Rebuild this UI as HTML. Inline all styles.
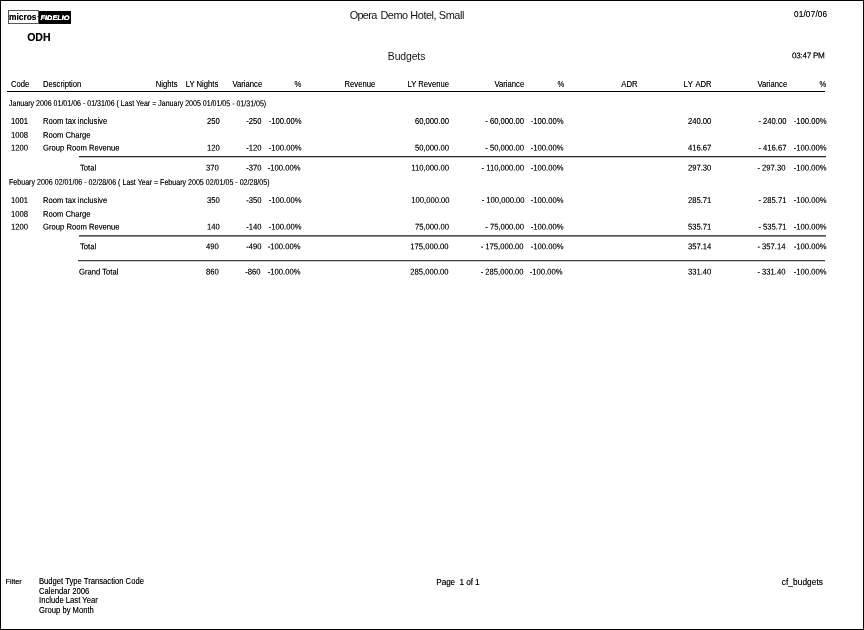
<!DOCTYPE html>
<html><head><meta charset="utf-8"><title>Budgets</title>
<style>
html,body{margin:0;padding:0;background:#fff;}
body{width:864px;height:630px;position:relative;overflow:hidden;font-family:"Liberation Sans",sans-serif;color:#000;}
.frame{position:absolute;left:0;top:0;width:862px;height:628px;border:1px solid #000;}
.t{position:absolute;white-space:nowrap;line-height:20px;font-size:8.3px;transform:scaleX(0.922);transform-origin:0 0;text-shadow:0 0 0.6px rgba(0,0,0,.55);}
.t.r{transform-origin:100% 0;}
.t.ns{text-shadow:none;color:#111;}
.l{position:absolute;}
.mi{position:absolute;left:8px;top:10px;width:31px;height:14px;border:1px solid #555;box-sizing:border-box;background:#fff;}
.fi{position:absolute;left:39px;top:11px;width:31.6px;height:13px;background:#000;}
.lg{position:absolute;white-space:nowrap;line-height:20px;font-weight:bold;transform-origin:0 0;}
.lg.m{left:9.3px;top:7px;font-size:9.6px;transform:scaleX(0.875);text-shadow:0 0 0.5px rgba(0,0,0,.6);}
.lg.d{left:36.9px;top:7px;font-size:7px;}
.lg.f{left:39.5px;top:8px;font-size:6.5px;color:#fff;transform-origin:0 14px;transform:scaleX(1.13) skewX(-8deg);text-shadow:0 0 0.4px #fff,0 0 0.4px #fff;}
</style></head><body>
<div class="frame"></div>
<div class="mi"></div><div class="fi"></div>
<span class="lg m">micros</span><span class="lg d">&middot;</span><span class="lg f">FIDELIO</span>
<span class="t ns" style="font-size:10.9px;letter-spacing:-0.43px;top:5px;left:349.7px;transform:scaleX(1);"><span style="letter-spacing:-0.68px;margin-right:1.25px">Opera</span> Demo Hotel, Small</span>
<span class="t" style="font-size:8.2px;letter-spacing:0.2px;top:4.5px;left:793.9px;transform:scaleX(1);">01/07/06</span>
<span class="t" style="font-size:10.5px;font-weight:bold;top:27px;left:27.2px;transform:scaleX(1);">ODH</span>
<span class="t ns" style="font-size:10.4px;letter-spacing:-0.1px;top:46.5px;left:387.8px;transform:scaleX(1);">Budgets</span>
<span class="t" style="font-size:8.2px;letter-spacing:-0.3px;top:45.5px;left:791.5px;transform:translateY(0.3px) scaleX(1) skewY(0.05deg);">03:47 PM</span>
<span class="t" style="top:74px;left:10.7px;">Code</span>
<span class="t" style="top:74px;left:43px;">Description</span>
<span class="t r" style="top:74px;right:686.2px;">Nights</span>
<span class="t r" style="top:74px;right:645.3px;">LY Nights</span>
<span class="t r" style="top:74px;right:602px;">Variance</span>
<span class="t r" style="top:74px;right:563.1px;">%</span>
<span class="t r" style="top:74px;right:489px;">Revenue</span>
<span class="t r" style="top:74px;right:414.7px;">LY Revenue</span>
<span class="t r" style="top:74px;right:339.7px;">Variance</span>
<span class="t r" style="top:74px;right:300.1px;">%</span>
<span class="t r" style="top:74px;right:226.4px;">ADR</span>
<span class="t r" style="top:74px;right:152.5px;">L<span style="letter-spacing:1px">Y</span> ADR</span>
<span class="t r" style="top:74px;right:76.8px;">Variance</span>
<span class="t r" style="top:74px;right:37.3px;">%</span>
<div class="l" style="left:7px;width:818px;top:91px;height:1px;background:#000"></div>
<span class="t" style="font-size:8.4px;top:92px;left:8.7px;transform:translateY(0.9px) scaleX(0.84) skewY(0.05deg);">January 2006 01/01/06 - 01/31/06 ( Last Year = January 2005 01/01/05 - 01/31/05)</span>
<span class="t" style="top:111px;left:10.8px;">1001</span>
<span class="t" style="top:111px;left:43px;">Room tax inclusive</span>
<span class="t r" style="top:111px;right:644.6px;">250</span>
<span class="t r" style="top:111px;right:602px;">-250</span>
<span class="t r" style="top:111px;right:562.7px;">-100.00%</span>
<span class="t r" style="top:111px;right:414.7px;">60,000.00</span>
<span class="t r" style="top:111px;right:339.7px;">- 60,000.00</span>
<span class="t r" style="top:111px;right:300.4px;">-100.00%</span>
<span class="t r" style="top:111px;right:152.15px;">240.00</span>
<span class="t r" style="top:111px;right:77.3px;">- 240.00</span>
<span class="t r" style="top:111px;right:37.1px;">-100.00%</span>
<span class="t" style="top:124px;left:10.8px;transform:translateY(0.65px) scaleX(0.922) skewY(0.05deg);">1008</span>
<span class="t" style="top:124px;left:43px;transform:translateY(0.65px) scaleX(0.922) skewY(0.05deg);">Room Charge</span>
<span class="t" style="top:137px;left:10.8px;transform:translateY(0.55px) scaleX(0.922) skewY(0.05deg);">1200</span>
<span class="t" style="top:137px;left:43px;transform:translateY(0.55px) scaleX(0.922) skewY(0.05deg);">Group Room Revenue</span>
<span class="t r" style="top:137px;right:644.6px;transform:translateY(0.55px) scaleX(0.922) skewY(0.05deg);">120</span>
<span class="t r" style="top:137px;right:602px;transform:translateY(0.55px) scaleX(0.922) skewY(0.05deg);">-120</span>
<span class="t r" style="top:137px;right:562.7px;transform:translateY(0.55px) scaleX(0.922) skewY(0.05deg);">-100.00%</span>
<span class="t r" style="top:137px;right:414.7px;transform:translateY(0.55px) scaleX(0.922) skewY(0.05deg);">50,000.00</span>
<span class="t r" style="top:137px;right:339.7px;transform:translateY(0.55px) scaleX(0.922) skewY(0.05deg);">- 50,000.00</span>
<span class="t r" style="top:137px;right:300.4px;transform:translateY(0.55px) scaleX(0.922) skewY(0.05deg);">-100.00%</span>
<span class="t r" style="top:137px;right:152.15px;transform:translateY(0.55px) scaleX(0.922) skewY(0.05deg);">416.67</span>
<span class="t r" style="top:137px;right:77.3px;transform:translateY(0.55px) scaleX(0.922) skewY(0.05deg);">- 416.67</span>
<span class="t r" style="top:137px;right:37.1px;transform:translateY(0.55px) scaleX(0.922) skewY(0.05deg);">-100.00%</span>
<div class="l" style="left:79px;width:747px;top:156px;height:1px;background:#2a2a2a"></div>
<div class="l" style="left:79px;width:747px;top:157px;height:1px;background:#c0c0c0"></div>
<span class="t" style="top:157px;left:79.7px;transform:translateY(0.5px) scaleX(0.922) skewY(0.05deg);">Total</span>
<span class="t r" style="top:157px;right:645.1px;transform:translateY(0.5px) scaleX(0.922) skewY(0.05deg);">370</span>
<span class="t r" style="top:157px;right:602.8px;transform:translateY(0.5px) scaleX(0.922) skewY(0.05deg);">-370</span>
<span class="t r" style="top:157px;right:563.5px;transform:translateY(0.5px) scaleX(0.922) skewY(0.05deg);">-100.00%</span>
<span class="t r" style="top:157px;right:415px;transform:translateY(0.5px) scaleX(0.922) skewY(0.05deg);">110,000.00</span>
<span class="t r" style="top:157px;right:340.3px;transform:translateY(0.5px) scaleX(0.922) skewY(0.05deg);">- 110,000.00</span>
<span class="t r" style="top:157px;right:300.9px;transform:translateY(0.5px) scaleX(0.922) skewY(0.05deg);">-100.00%</span>
<span class="t r" style="top:157px;right:152.8px;transform:translateY(0.5px) scaleX(0.922) skewY(0.05deg);">297.30</span>
<span class="t r" style="top:157px;right:78.3px;transform:translateY(0.5px) scaleX(0.922) skewY(0.05deg);">- 297.30</span>
<span class="t r" style="top:157px;right:37.6px;transform:translateY(0.5px) scaleX(0.922) skewY(0.05deg);">-100.00%</span>
<span class="t" style="font-size:8.4px;top:171px;left:8.7px;transform:translateY(0.8px) scaleX(0.846) skewY(0.05deg);">Febuary 2006 02/01/06 - 02/28/06 ( Last Year = Febuary 2005 02/01/05 - 02/28/05)</span>
<span class="t" style="top:189px;left:10.8px;transform:translateY(0.9px) scaleX(0.922) skewY(0.05deg);">1001</span>
<span class="t" style="top:189px;left:43px;transform:translateY(0.9px) scaleX(0.922) skewY(0.05deg);">Room tax inclusive</span>
<span class="t r" style="top:189px;right:644.6px;transform:translateY(0.9px) scaleX(0.922) skewY(0.05deg);">350</span>
<span class="t r" style="top:189px;right:602px;transform:translateY(0.9px) scaleX(0.922) skewY(0.05deg);">-350</span>
<span class="t r" style="top:189px;right:562.7px;transform:translateY(0.9px) scaleX(0.922) skewY(0.05deg);">-100.00%</span>
<span class="t r" style="top:189px;right:414.7px;transform:translateY(0.9px) scaleX(0.922) skewY(0.05deg);">100,000.00</span>
<span class="t r" style="top:189px;right:339.7px;transform:translateY(0.9px) scaleX(0.922) skewY(0.05deg);">- 100,000.00</span>
<span class="t r" style="top:189px;right:300.4px;transform:translateY(0.9px) scaleX(0.922) skewY(0.05deg);">-100.00%</span>
<span class="t r" style="top:189px;right:152.15px;transform:translateY(0.9px) scaleX(0.922) skewY(0.05deg);">285.71</span>
<span class="t r" style="top:189px;right:77.3px;transform:translateY(0.9px) scaleX(0.922) skewY(0.05deg);">- 285.71</span>
<span class="t r" style="top:189px;right:37.1px;transform:translateY(0.9px) scaleX(0.922) skewY(0.05deg);">-100.00%</span>
<span class="t" style="top:203px;left:10.8px;transform:translateY(0.7px) scaleX(0.922) skewY(0.05deg);">1008</span>
<span class="t" style="top:203px;left:43px;transform:translateY(0.7px) scaleX(0.922) skewY(0.05deg);">Room Charge</span>
<span class="t" style="top:216px;left:10.8px;transform:translateY(0.55px) scaleX(0.922) skewY(0.05deg);">1200</span>
<span class="t" style="top:216px;left:43px;transform:translateY(0.55px) scaleX(0.922) skewY(0.05deg);">Group Room Revenue</span>
<span class="t r" style="top:216px;right:644.6px;transform:translateY(0.55px) scaleX(0.922) skewY(0.05deg);">140</span>
<span class="t r" style="top:216px;right:602px;transform:translateY(0.55px) scaleX(0.922) skewY(0.05deg);">-140</span>
<span class="t r" style="top:216px;right:562.7px;transform:translateY(0.55px) scaleX(0.922) skewY(0.05deg);">-100.00%</span>
<span class="t r" style="top:216px;right:414.7px;transform:translateY(0.55px) scaleX(0.922) skewY(0.05deg);">75,000.00</span>
<span class="t r" style="top:216px;right:339.7px;transform:translateY(0.55px) scaleX(0.922) skewY(0.05deg);">- 75,000.00</span>
<span class="t r" style="top:216px;right:300.4px;transform:translateY(0.55px) scaleX(0.922) skewY(0.05deg);">-100.00%</span>
<span class="t r" style="top:216px;right:152.15px;transform:translateY(0.55px) scaleX(0.922) skewY(0.05deg);">535.71</span>
<span class="t r" style="top:216px;right:77.3px;transform:translateY(0.55px) scaleX(0.922) skewY(0.05deg);">- 535.71</span>
<span class="t r" style="top:216px;right:37.1px;transform:translateY(0.55px) scaleX(0.922) skewY(0.05deg);">-100.00%</span>
<div class="l" style="left:79px;width:747px;top:235px;height:1px;background:#555"></div>
<div class="l" style="left:79px;width:747px;top:236px;height:1px;background:#8a8a8a"></div>
<span class="t" style="top:236px;left:79.7px;transform:translateY(0.3px) scaleX(0.922) skewY(0.05deg);">Total</span>
<span class="t r" style="top:236px;right:645.1px;transform:translateY(0.3px) scaleX(0.922) skewY(0.05deg);">490</span>
<span class="t r" style="top:236px;right:602.8px;transform:translateY(0.3px) scaleX(0.922) skewY(0.05deg);">-490</span>
<span class="t r" style="top:236px;right:563.5px;transform:translateY(0.3px) scaleX(0.922) skewY(0.05deg);">-100.00%</span>
<span class="t r" style="top:236px;right:415px;transform:translateY(0.3px) scaleX(0.922) skewY(0.05deg);">175,000.00</span>
<span class="t r" style="top:236px;right:340.3px;transform:translateY(0.3px) scaleX(0.922) skewY(0.05deg);">- 175,000.00</span>
<span class="t r" style="top:236px;right:300.9px;transform:translateY(0.3px) scaleX(0.922) skewY(0.05deg);">-100.00%</span>
<span class="t r" style="top:236px;right:152.8px;transform:translateY(0.3px) scaleX(0.922) skewY(0.05deg);">357.14</span>
<span class="t r" style="top:236px;right:78.3px;transform:translateY(0.3px) scaleX(0.922) skewY(0.05deg);">- 357.14</span>
<span class="t r" style="top:236px;right:37.6px;transform:translateY(0.3px) scaleX(0.922) skewY(0.05deg);">-100.00%</span>
<div class="l" style="left:78px;width:747px;top:260px;height:1px;background:#404040"></div>
<div class="l" style="left:78px;width:747px;top:261px;height:1px;background:#ccc"></div>
<span class="t" style="top:261px;left:78.7px;transform:translateY(0.5px) scaleX(0.922) skewY(0.05deg);">Grand Total</span>
<span class="t r" style="top:261px;right:645.4px;transform:translateY(0.5px) scaleX(0.922) skewY(0.05deg);">860</span>
<span class="t r" style="top:261px;right:603.1px;transform:translateY(0.5px) scaleX(0.922) skewY(0.05deg);">-860</span>
<span class="t r" style="top:261px;right:563.7px;transform:translateY(0.5px) scaleX(0.922) skewY(0.05deg);">-100.00%</span>
<span class="t r" style="top:261px;right:415.7px;transform:translateY(0.5px) scaleX(0.922) skewY(0.05deg);">285,000.00</span>
<span class="t r" style="top:261px;right:340.9px;transform:translateY(0.5px) scaleX(0.922) skewY(0.05deg);">- 285,000.00</span>
<span class="t r" style="top:261px;right:301px;transform:translateY(0.5px) scaleX(0.922) skewY(0.05deg);">-100.00%</span>
<span class="t r" style="top:261px;right:152.8px;transform:translateY(0.5px) scaleX(0.922) skewY(0.05deg);">331.40</span>
<span class="t r" style="top:261px;right:78.7px;transform:translateY(0.5px) scaleX(0.922) skewY(0.05deg);">- 331.40</span>
<span class="t r" style="top:261px;right:37.8px;transform:translateY(0.5px) scaleX(0.922) skewY(0.05deg);">-100.00%</span>
<span class="t" style="font-size:7.5px;letter-spacing:-0.1px;top:571.5px;left:5.6px;transform:scaleX(1);">Filter</span>
<span class="t" style="top:571px;left:38.5px;">Budget Type Transaction Code</span>
<span class="t" style="top:581px;left:38.5px;">Calendar 2006</span>
<span class="t" style="top:590px;left:38.5px;">Include Last Year</span>
<span class="t" style="top:600px;left:38.5px;">Group by Month</span>
<span class="t" style="font-size:8.2px;letter-spacing:-0.08px;top:572.5px;left:436.3px;transform:scaleX(1);">Page&nbsp; 1 of 1</span>
<span class="t" style="letter-spacing:0.06px;top:572px;left:781.8px;transform:scaleX(1);">cf_budgets</span>
</body></html>
